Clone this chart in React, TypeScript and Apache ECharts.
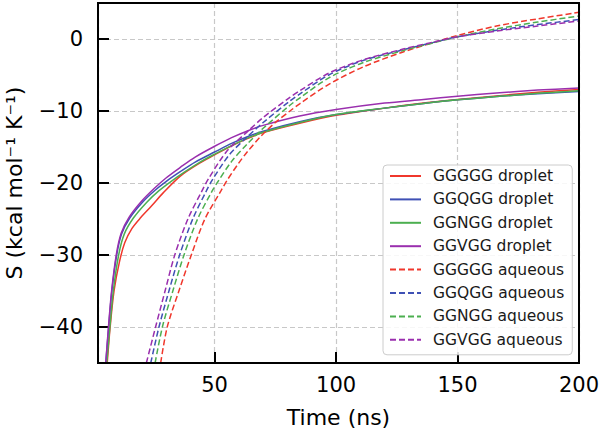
import React, { useEffect, useRef } from "react";
import * as echarts from "echarts";

// ---- data ----
const seriesNames = [
  "GGGGG droplet",
  "GGQGG droplet",
  "GGNGG droplet",
  "GGVGG droplet",
  "GGGGG aqueous",
  "GGQGG aqueous",
  "GGNGG aqueous",
  "GGVGG aqueous",
];
const seriesColors = ["#f0372c", "#3f51b5", "#4caf50", "#9a2fae", "#f0372c", "#3f51b5", "#4caf50", "#9a2fae"];

const ggggDropletT = [5.8, 7.0, 8.6, 10.8, 13, 16, 19.6, 24, 29, 36, 43, 50, 56, 63, 70, 85, 100, 120, 136, 150, 166, 183, 200];
const ggggDropletS = [-45, -40, -35, -31, -28.3, -26.3, -24.8, -23.2, -21.3, -19.0, -17.4, -16.1, -15.0, -13.9, -13.0, -11.7, -10.6, -9.6, -8.9, -8.4, -7.9, -7.4, -7.0];

const ggqgDropletT = [5.2, 6.4, 7.7, 9.7, 11.7, 15, 20.5, 25.5, 30, 36, 42, 50, 57, 64, 70, 85, 100, 120, 136, 150, 166, 183, 200];
const ggqgDropletS = [-45, -40, -35, -30, -27.1, -24.9, -22.6, -21.0, -19.8, -18.4, -17.1, -15.7, -14.5, -13.5, -12.8, -11.5, -10.5, -9.6, -8.95, -8.45, -8.0, -7.6, -7.3];

const ggngDropletT = [5.6, 6.9, 8.3, 10.5, 12.8, 16.5, 22, 27, 32, 38, 44, 50, 57, 64, 70, 85, 100, 120, 136, 150, 166, 183, 200];
const ggngDropletS = [-45, -40, -35, -30, -27.1, -24.9, -22.7, -21.1, -19.8, -18.4, -17.1, -16.0, -14.8, -13.7, -12.95, -11.6, -10.5, -9.6, -8.95, -8.45, -8.0, -7.55, -7.2];

const ggvgDropletT = [5.2, 6.3, 7.6, 9.5, 11.5, 14.7, 20, 25, 30, 36, 42, 50, 57, 64, 70, 85, 100, 120, 136, 150, 166, 183, 200];
const ggvgDropletS = [-45, -40, -35, -30, -27.0, -24.8, -22.5, -20.8, -19.3, -17.8, -16.4, -14.9, -13.7, -12.7, -12.0, -10.7, -9.8, -8.9, -8.4, -7.95, -7.5, -7.1, -6.8];

const ggggAqueousT = [27.8, 30.5, 35.3, 40.4, 46, 52.6, 55, 60, 63.4, 68.8, 75, 81, 85, 97, 111, 127.6, 141, 150, 166, 183, 200];
const ggggAqueousS = [-45, -40, -35, -30, -25, -21.1, -19.7, -17.2, -15.7, -13.6, -11.6, -10.0, -9.0, -6.3, -3.9, -1.8, -0.4, 0.5, 1.8, 2.8, 3.7];

const ggqgAqueousT = [23.7, 27.1, 31.2, 35.6, 41, 46.6, 49, 56, 63.4, 70, 81, 85, 97, 111, 127.6, 141, 150, 166, 183, 200];
const ggqgAqueousS = [-45, -40, -35, -30, -25, -21.1, -19.6, -16.1, -13.6, -11.6, -8.6, -7.65, -5.0, -3.0, -1.5, -0.4, 0.3, 1.2, 2.0, 2.7];

const ggngAqueousT = [25.5, 28.5, 32.8, 37.4, 43, 49, 51, 57, 63.4, 70, 81, 85, 97, 111, 127.6, 141, 150, 166, 183, 200];
const ggngAqueousS = [-45, -40, -35, -30, -25, -21.1, -20.0, -17.0, -14.6, -12.4, -9.2, -8.2, -5.4, -3.3, -1.6, -0.45, 0.3, 1.4, 2.35, 3.2];

const ggvgAqueousT = [21.9, 25.7, 29.6, 33.6, 39, 44.8, 47.5, 55, 63.4, 70, 81, 85, 97, 111, 127.6, 141, 150, 166, 183, 200];
const ggvgAqueousS = [-45, -40, -35, -30, -25, -21.1, -19.4, -15.6, -12.9, -10.9, -8.1, -7.2, -4.75, -2.9, -1.4, -0.35, 0.3, 1.1, 1.8, 2.5];

const seriesTimes = [ggggDropletT, ggqgDropletT, ggngDropletT, ggvgDropletT, ggggAqueousT, ggqgAqueousT, ggngAqueousT, ggvgAqueousT];
const seriesValues = [ggggDropletS, ggqgDropletS, ggngDropletS, ggvgDropletS, ggggAqueousS, ggqgAqueousS, ggngAqueousS, ggvgAqueousS];

const xLabel = "Time (ns)";
const yLabel = "S (kcal mol\u207B\u00B9 K\u207B\u00B9)";

const FONT = "DejaVu Sans";

export default function App() {
  const ref = useRef<HTMLDivElement>(null);
  useEffect(() => {
    document.body.style.margin = "0";
    if (!ref.current) return;
    const chart = echarts.init(ref.current, undefined, { renderer: "svg" });
    const series = seriesNames.map((name, i) => ({
      name,
      type: "line",
      data: seriesTimes[i].map((t, j) => [t, seriesValues[i][j]]),
      symbol: "none",
      showSymbol: false,
      smooth: 0.3,
      clip: true,
      color: seriesColors[i],
      lineStyle: {
        color: seriesColors[i],
        width: 1.5,
        type: i < 4 ? "solid" : [6, 3],
      },
      z: 2,
    }));
    chart.setOption({
      animation: false,
      backgroundColor: "#ffffff",
      textStyle: { fontFamily: FONT },
      grid: {
        left: 98,
        right: 21,
        top: 3,
        bottom: 67,
        containLabel: false,
        outerBoundsMode: "none",
        show: true,
        borderColor: "#000",
        borderWidth: 2,
        backgroundColor: "transparent",
        z: 3,
      },
      xAxis: {
        type: "value",
        min: 2,
        max: 200,
        splitNumber: 4,
        name: xLabel,
        nameLocation: "middle",
        nameGap: 43,
        nameTextStyle: { fontSize: 22, color: "#000", fontFamily: FONT },
        axisLine: { show: false, onZero: false },
        axisTick: { show: true, inside: true, length: 11, lineStyle: { color: "#000", width: 2 } },
        axisLabel: { fontSize: 21, color: "#000", fontFamily: FONT, margin: 11, showMinLabel: false },
        splitLine: { show: true, lineStyle: { color: "#c8c8c8", type: [5, 3], width: 1.2 } },
      },
      yAxis: {
        type: "value",
        min: -45,
        max: 5,
        splitNumber: 5,
        name: yLabel,
        nameLocation: "middle",
        nameRotate: 90,
        nameGap: 73,
        nameTextStyle: { fontSize: 22, color: "#000", fontFamily: FONT },
        axisLine: { show: false, onZero: false },
        axisTick: { show: true, inside: true, length: 11, lineStyle: { color: "#000", width: 2 } },
        axisLabel: {
          fontSize: 21,
          color: "#000",
          fontFamily: FONT,
          margin: 15,
          showMinLabel: false,
          showMaxLabel: false,
          formatter: (v: number) => (v < 0 ? "\u2212" + Math.abs(v) : String(v)),
        },
        splitLine: { show: true, lineStyle: { color: "#c8c8c8", type: [5, 3], width: 1.2 } },
      },
      legend: {
        orient: "vertical",
        left: 383,
        top: 165,
        data: seriesNames,
        itemWidth: 31,
        itemHeight: 14,
        itemGap: 7.4,
        padding: [3, 8, 7, 6],
        backgroundColor: "rgba(255,255,255,0.85)",
        borderColor: "#cccccc",
        borderWidth: 1,
        borderRadius: 4,
        itemStyle: { opacity: 0 },
        textStyle: { fontSize: 15.5, color: "#1a1a1a", fontFamily: FONT, lineHeight: 16, padding: [0, 0, 0, 7] },
        z: 10,
      },
      series,
    });
    return () => chart.dispose();
  }, []);
  return <div ref={ref} style={{ width: 600, height: 430 }} />;
}
